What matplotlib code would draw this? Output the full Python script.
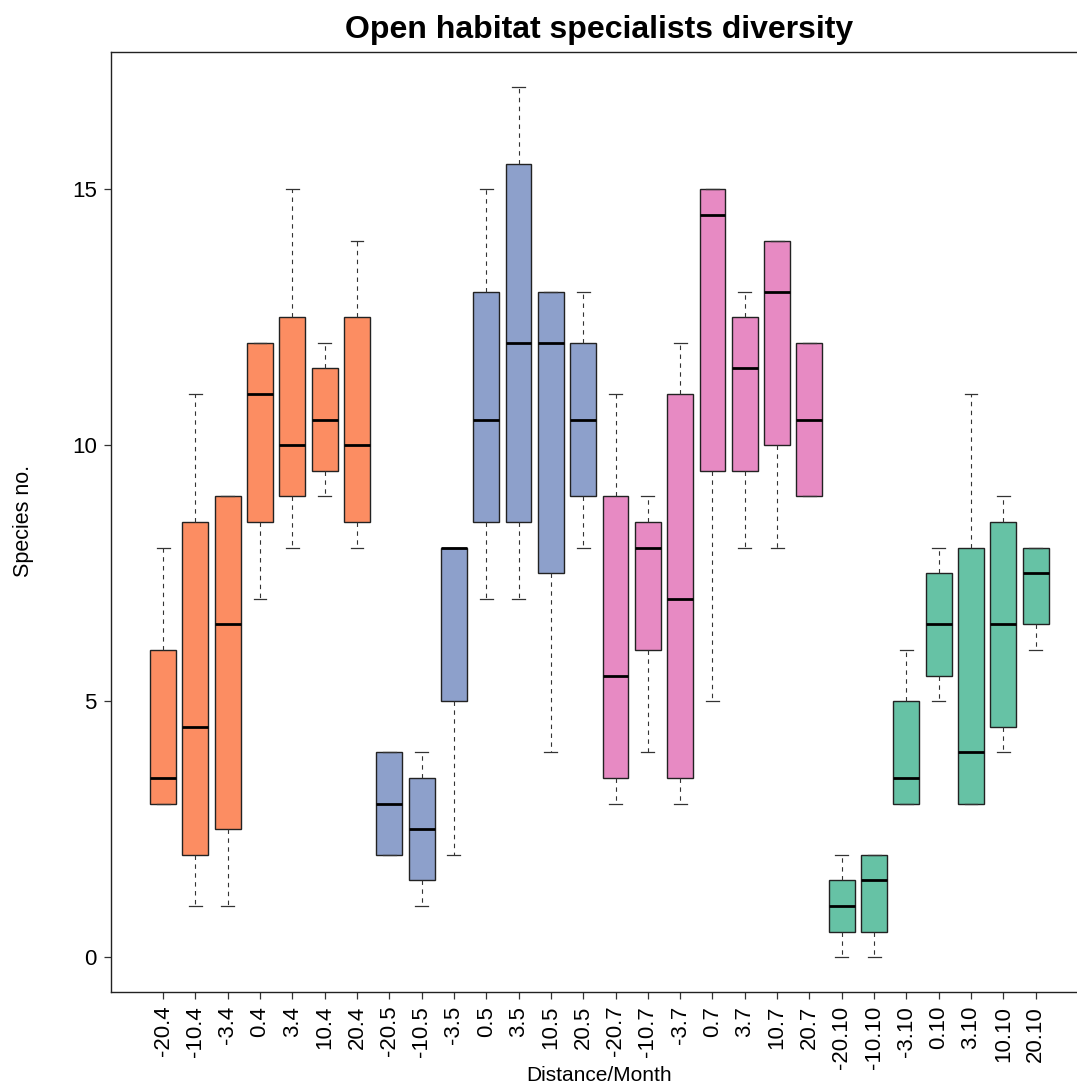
import numpy as np
import matplotlib.pyplot as plt

plt.rcParams['font.family'] = ['Liberation Sans', 'DejaVu Sans']

labels = ['-20.4', '-10.4', '-3.4', '0.4', '3.4', '10.4', '20.4',
          '-20.5', '-10.5', '-3.5', '0.5', '3.5', '10.5', '20.5',
          '-20.7', '-10.7', '-3.7', '0.7', '3.7', '10.7', '20.7',
          '-20.10', '-10.10', '-3.10', '0.10', '3.10', '10.10', '20.10']
whislo = [3, 1, 1, 7, 8, 9, 8,
          2, 1, 2, 7, 7, 4, 8,
          3, 4, 3, 5, 8, 8, 9,
          0, 0, 3, 5, 3, 4, 6]
q1 = [3, 2, 2.5, 8.5, 9, 9.5, 8.5,
      2, 1.5, 5, 8.5, 8.5, 7.5, 9,
      3.5, 6, 3.5, 9.5, 9.5, 10, 9,
      0.5, 0.5, 3, 5.5, 3, 4.5, 6.5]
med = [3.5, 4.5, 6.5, 11, 10, 10.5, 10,
       3, 2.5, 8, 10.5, 12, 12, 10.5,
       5.5, 8, 7, 14.5, 11.5, 13, 10.5,
       1, 1.5, 3.5, 6.5, 4, 6.5, 7.5]
q3 = [6, 8.5, 9, 12, 12.5, 11.5, 12.5,
      4, 3.5, 8, 13, 15.5, 13, 12,
      9, 8.5, 11, 15, 12.5, 14, 12,
      1.5, 2, 5, 7.5, 8, 8.5, 8]
whishi = [8, 11, 9, 12, 15, 12, 14,
          4, 4, 8, 15, 17, 13, 13,
          11, 9, 12, 15, 13, 14, 12,
          2, 2, 6, 8, 11, 9, 8]
group_colors = ['#FC8D62', '#8DA0CB', '#E78AC3', '#66C2A5']

fig = plt.figure(figsize=(10.77, 10.84), dpi=100)
ax = fig.add_axes([0.1028, 0.0849, 0.9074, 0.867])

stats = []
for i in range(len(labels)):
    stats.append({'label': labels[i], 'whislo': whislo[i], 'q1': q1[i],
                  'med': med[i], 'q3': q3[i], 'whishi': whishi[i], 'fliers': []})

pos = np.arange(1, len(labels) + 1)
bp = ax.bxp(stats, positions=pos, widths=0.8, patch_artist=True, showfliers=False,
            capwidths=0.4,
            boxprops=dict(linewidth=1.0, edgecolor='#222222'),
            medianprops=dict(color='black', linewidth=2.0, solid_capstyle='butt'),
            whiskerprops=dict(color='#333333', linewidth=0.8, linestyle=(0, (4, 4))),
            capprops=dict(color='#333333', linewidth=0.9))
for i, box in enumerate(bp['boxes']):
    box.set_facecolor(group_colors[i // 7])

ax.set_xlim(-0.62, 29.62)
ax.set_ylim(-0.68, 17.68)
ax.set_yticks([0, 5, 10, 15])
ax.set_xticks(pos)
ax.set_xticklabels(labels, rotation=90)
ax.tick_params(axis='both', labelsize=16, length=5, width=0.9, color='#333333', pad=5)
for sp in ax.spines.values():
    sp.set_linewidth(1.0)
    sp.set_color('#222222')

# title and axis labels placed in figure coordinates like the R device
fig.text(0.556, 0.9654, 'Open habitat specialists diversity', fontsize=23,
         fontweight='bold', ha='center', va='baseline')
fig.text(0.556, 0.003, 'Distance/Month', fontsize=15, ha='center', va='baseline')
fig.text(0.0215, 0.519, 'Species no.', fontsize=15.5, rotation=90, ha='center', va='center')

fig.savefig('out.png', dpi=100)
